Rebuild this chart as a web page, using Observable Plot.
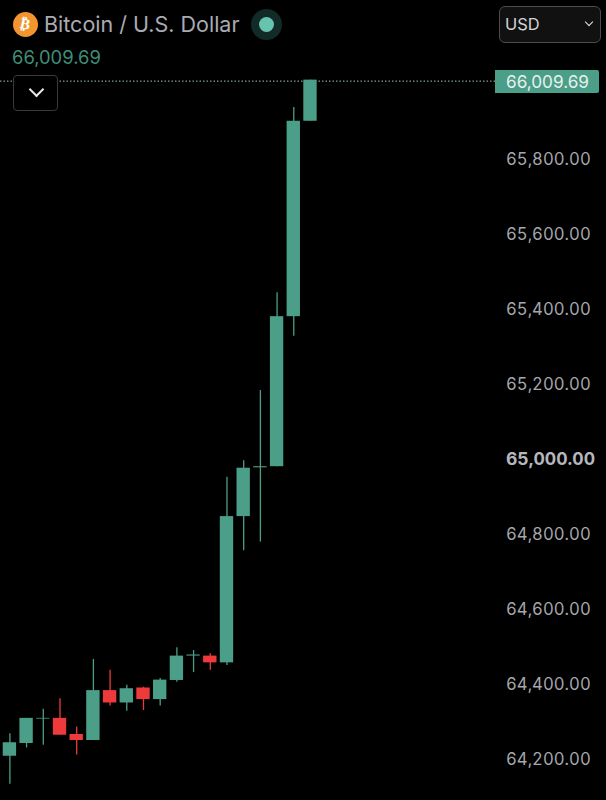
<!DOCTYPE html>
<html><head><meta charset="utf-8">
<script src="https://cdn.jsdelivr.net/npm/d3@7"></script>
<script src="https://cdn.jsdelivr.net/npm/@observablehq/plot@0.6"></script>
<style>
html,body{margin:0;padding:0;background:#000;width:606px;height:800px;overflow:hidden;font-family:Inter,"Noto Sans",sans-serif}
#chart{position:absolute;left:0;top:0}
#chart svg{display:block}
.o{position:absolute;white-space:nowrap}
.chev{position:absolute;border-right:2px solid #e8e8e8;border-bottom:2px solid #e8e8e8;transform:rotate(45deg)}
</style></head><body>
<div id="chart"></div>
<div class="o" style="left:12.5px;top:11.5px;width:25px;height:25px;border-radius:50%;background:#f2952f;color:#fff;font:bold 15px/25px 'DejaVu Sans';text-align:center"><span style="display:inline-block;transform:rotate(12deg)">₿</span></div>
<div class="o" style="left:44px;top:10px;font-size:21.5px;line-height:28px;color:#a9abb2">Bitcoin / U.S. Dollar</div>
<div class="o" style="left:251px;top:9px;width:31px;height:31px;border-radius:50%;background:#122b28"></div>
<div class="o" style="left:259px;top:17px;width:15px;height:15px;border-radius:50%;background:#67c3ae"></div>
<div class="o" style="left:12px;top:44.5px;font-size:18.4px;line-height:24px;color:#3f8e79">66,009.69</div>
<div class="o" style="left:13px;top:75px;width:43px;height:34px;border:1.5px solid #3a3a3a;border-radius:4px;background:#000;box-sizing:content-box"><div class="chev" style="left:16.5px;top:8px;width:9px;height:9px"></div></div>
<div class="o" style="left:499px;top:6px;width:100px;height:35px;border:1.5px solid #4c4c4c;border-radius:6px;background:#111"><span class="o" style="left:5px;top:5px;font-size:16.4px;line-height:24px;color:#d4d4d4">USD</span><div class="chev" style="left:86px;top:12px;width:5px;height:5px;border-width:1.5px"></div></div>
<div class="o" style="left:495px;top:69.5px;width:104px;height:23.5px;background:#4b9e87;border-radius:0 2px 2px 0;color:#e8f1ee;font-size:17.2px;line-height:23.5px;text-align:center;padding-left:1px;box-sizing:border-box">66,009.69</div>
<script>
const opens  = [64207,64241,64306,64308,64265,64249,64382,64349,64389,64358,64409,64474,64474,64456,64846,64976,64979,65379,65900];
const closes = [64243,64308,64308,64263,64249,64382,64349,64387,64358,64410,64474,64477,64456,64846,64975,64979,65379,65900,66009.69];
const highs  = [64267,64308,64332,64360,64285,64465,64436,64396,64391,64414,64496,64489,64480,64951,64995,65182,65443,65937,66009.69];
const lows   = [64132,64229,64236,64263,64210,64249,64341,64327,64329,64341,64404,64430,64436,64449,64755,64778,64979,65327,65900];
const regularTicks = [64200,64400,64600,64800,65200,65400,65600,65800];
const boldTicks = [65000];
const lastPrice = 66009.69;
const upColor = "#4b9e87", downColor = "#ef3a3c";

const candles = opens.map((open,i)=>({i,open,close:closes[i],high:highs[i],low:lows[i]}));
const colorOf = d => d.close >= d.open ? upColor : downColor;
const fmt = d3.format(",.2f");

const chart = Plot.plot({
  width:606, height:800,
  marginTop:0, marginBottom:0, marginLeft:0, marginRight:111,
  style:{background:"#000", fontFamily:"Inter, 'Noto Sans', sans-serif", fontSize:"16px"},
  x:{domain:[-0.563,29.08], axis:null},
  y:{domain:[64089,66222], axis:null},
  marks:[
    Plot.ruleY([lastPrice],{stroke:"#a0c4b8", strokeWidth:1, strokeDasharray:"1.5,2", dy:1}),
    Plot.ruleX(candles,{x:"i", y1:"low", y2:"high", stroke:colorOf, strokeWidth:1.3}),
    Plot.rect(candles,{x1:d=>d.i-0.4, x2:d=>d.i+0.4, y1:"open", y2:"close", fill:colorOf}),
    Plot.axisY(regularTicks,{anchor:"right", tickSize:0, tickPadding:10.5, tickFormat:fmt, label:null, fill:"#a5a7ad", fontSize:16.7, dy:0.7}),
    Plot.axisY(boldTicks,{anchor:"right", tickSize:0, tickPadding:10.5, tickFormat:fmt, label:null, fill:"#b5b7bd", fontSize:17.6, fontWeight:"bold", dy:0.7})
  ]
});
document.getElementById("chart").appendChild(chart);
</script>
</body></html>
